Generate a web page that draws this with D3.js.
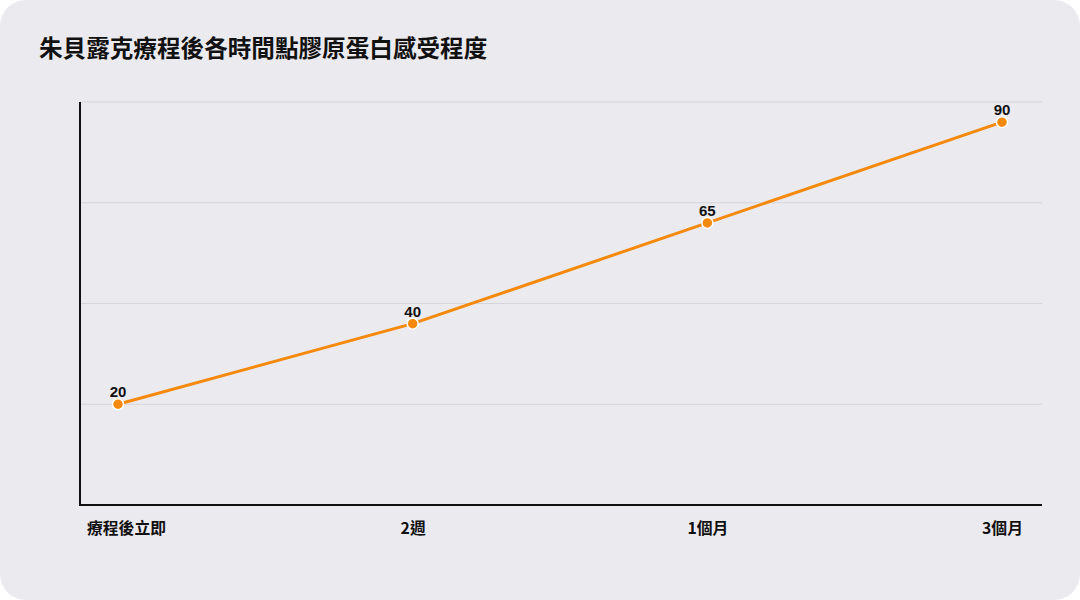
<!DOCTYPE html>
<html><head><meta charset="utf-8">
<script src="https://cdn.jsdelivr.net/npm/d3@7"></script>
<style>
html,body{margin:0;padding:0;background:#ffffff;}
svg{display:block;}
text{font-family:"Noto Sans CJK TC","Noto Sans",sans-serif;}
</style></head>
<body>
<svg id="chart" width="1080" height="600"></svg>
<script>
const title = "朱貝露克療程後各時間點膠原蛋白感受程度";
const categories = ["療程後立即", "2週", "1個月", "3個月"];
const values = [20, 40, 65, 90];
const gridTicks = [20, 45, 70, 95];

const W = 1080, H = 600;
const m = {left: 80, right: 38, top: 102, bottom: 95};
const svg = d3.select("#chart");

svg.append("rect").attr("x", 0).attr("y", 0).attr("width", W).attr("height", H)
  .attr("rx", 26).attr("fill", "#ebeaef");

svg.append("text").attr("x", 39).attr("y", 57)
  .attr("font-size", 23.6).attr("font-weight", 700).attr("fill", "#111")
  .text(title);

const x = d3.scalePoint().domain(categories).range([m.left + 38, W - m.right - 40]);
const y = d3.scaleLinear().domain([-5, 95]).range([H - m.bottom, m.top]);

// gridlines
svg.append("g").selectAll("line").data(gridTicks).join("line")
  .attr("x1", m.left).attr("x2", W - m.right)
  .attr("y1", d => y(d)).attr("y2", d => y(d))
  .attr("stroke", "#d6d5db").attr("stroke-width", 1);

// axes
const xAxis = svg.append("g").attr("transform", `translate(0,${H - m.bottom})`)
  .call(d3.axisBottom(x).tickSize(0).tickPadding(18));
xAxis.select(".domain").attr("d", `M${m.left},0H${W - m.right}`).attr("stroke", "#111").attr("stroke-width", 2);
xAxis.selectAll("text").attr("font-size", 15.8).attr("font-weight", 700).attr("fill", "#111")
  .style("font-family", '"Noto Sans CJK TC","Noto Sans",sans-serif')
  .each(function() {
    const bb = this.getBBox();
    const t = d3.select(this);
    const cx = +d3.select(this.parentNode).attr("transform").match(/translate\(([-\d.]+)/)[1];
    if (cx - bb.width / 2 < 87) t.attr("dx", 87 - (cx - bb.width / 2));
  });

svg.append("line").attr("x1", m.left).attr("x2", m.left)
  .attr("y1", m.top).attr("y2", H - m.bottom + 1)
  .attr("stroke", "#111").attr("stroke-width", 2);

// line
const line = d3.line().x((d, i) => x(categories[i])).y(d => y(d));
svg.append("path").datum(values).attr("d", line)
  .attr("fill", "none").attr("stroke", "#f5890b").attr("stroke-width", 3);

svg.append("g").selectAll("circle").data(values).join("circle")
  .attr("cx", (d, i) => x(categories[i])).attr("cy", d => y(d)).attr("r", 5.5)
  .attr("fill", "#f5890b").attr("stroke", "#ffffff").attr("stroke-width", 1.5);

svg.append("g").selectAll("text").data(values).join("text")
  .attr("x", (d, i) => x(categories[i])).attr("y", d => y(d) - 7)
  .attr("text-anchor", "middle").attr("font-size", 15).attr("font-weight", 700).attr("fill", "#111")
  .style("font-family", '"Liberation Sans","Noto Sans",sans-serif')
  .text(d => d);
</script>
</body></html>
